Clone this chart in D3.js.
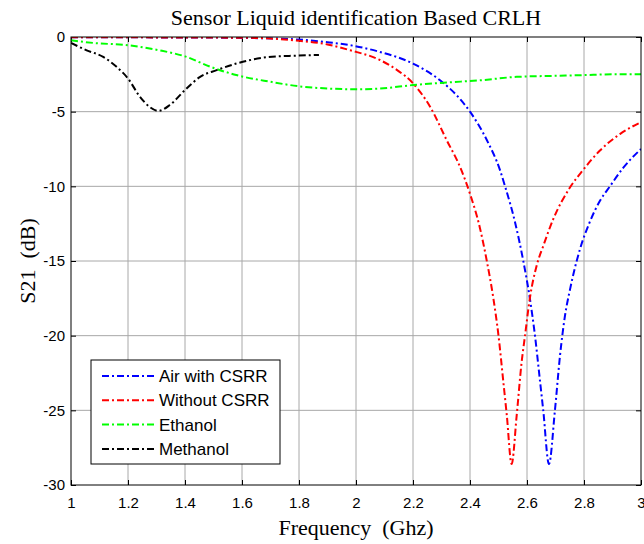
<!DOCTYPE html>
<html>
<head>
<meta charset="utf-8">
<script src="https://cdn.jsdelivr.net/npm/d3@7"></script>
<style>
  body { margin: 0; background: #fff; }
  .tick text { font-family: "Liberation Sans", Arial, sans-serif; font-size: 15px; fill: #000; }
  .grid line { stroke: #a8a8a8; stroke-width: 1; }
</style>
</head>
<body>
<div id="chart"></div>
<script>
// --- data ---
const airFreq = [1.0, 1.4, 1.6, 1.78, 1.9, 1.98, 2.084, 2.2, 2.295, 2.353, 2.4, 2.459, 2.505, 2.523, 2.558, 2.587, 2.61, 2.628, 2.646, 2.657, 2.677, 2.698, 2.716, 2.733, 2.751, 2.786, 2.82, 2.855, 2.891, 2.938, 3.0];
const airS21  = [-0.02, -0.03, -0.06, -0.15, -0.35, -0.55, -1.0, -1.78, -2.9, -3.9, -5.0, -6.9, -8.9, -10.0, -12.4, -15.0, -17.5, -20.0, -23.1, -25.0, -28.6, -25.0, -21.3, -18.7, -16.9, -14.2, -12.4, -11.0, -10.0, -8.75, -7.5];

const withoutFreq = [1.0, 1.4, 1.6, 1.7, 1.78, 1.9, 1.98, 2.084, 2.143, 2.2, 2.26, 2.318, 2.365, 2.4, 2.435, 2.459, 2.482, 2.5, 2.517, 2.529, 2.546, 2.564, 2.581, 2.593, 2.61, 2.634, 2.657, 2.692, 2.75, 2.797, 2.856, 2.926, 3.0];
const withoutS21  = [-0.02, -0.03, -0.05, -0.1, -0.22, -0.5, -0.89, -1.54, -2.2, -3.1, -4.67, -6.9, -8.7, -10.5, -12.8, -15.0, -17.5, -20.0, -23.1, -25.3, -28.6, -25.3, -21.8, -20.0, -17.5, -15.3, -14.0, -12.2, -10.1, -8.9, -7.6, -6.5, -5.7];

const ethanolFreq = [1.0, 1.08, 1.2, 1.31, 1.4, 1.49, 1.58, 1.7, 1.8, 1.9, 2.0, 2.084, 2.2, 2.318, 2.435, 2.564, 2.7, 2.8, 2.9, 3.0];
const ethanolS21  = [-0.22, -0.4, -0.55, -0.89, -1.3, -2.0, -2.55, -3.0, -3.3, -3.45, -3.5, -3.45, -3.22, -3.05, -2.9, -2.67, -2.6, -2.55, -2.5, -2.5];

const methanolFreq = [1.0, 1.055, 1.113, 1.16, 1.2, 1.242, 1.277, 1.306, 1.347, 1.4, 1.453, 1.511, 1.58, 1.69, 1.79, 1.87];
const methanolS21  = [-0.4, -0.89, -1.33, -2.0, -2.78, -4.0, -4.7, -4.95, -4.55, -3.55, -2.67, -2.22, -1.78, -1.35, -1.25, -1.2];

const seriesNames  = ["Air with CSRR", "Without CSRR", "Ethanol", "Methanol"];
const seriesColors = ["#0000ff", "#ff0000", "#00ff00", "#000000"];
const xTicks = [1, 1.2, 1.4, 1.6, 1.8, 2, 2.2, 2.4, 2.6, 2.8, 3];
const yTicks = [0, -5, -10, -15, -20, -25, -30];

const series = [
  [airFreq, airS21], [withoutFreq, withoutS21], [ethanolFreq, ethanolS21], [methanolFreq, methanolS21]
].map(([f, s], i) => ({ name: seriesNames[i], color: seriesColors[i], values: f.map((x, j) => ({ x, y: s[j] })) }));

const W = 644, H = 544;
const margin = { top: 37, right: 3, bottom: 59, left: 71 };
const width = W - margin.left - margin.right,
      height = H - margin.top - margin.bottom;

const svg = d3.select("#chart").append("svg")
  .attr("width", W).attr("height", H);

const g = svg.append("g").attr("transform", `translate(${margin.left},${margin.top})`);

const x = d3.scaleLinear().domain([1, 3]).range([0, width]);
const y = d3.scaleLinear().domain([-30, 0]).range([height, 0]);

// grid
g.append("g").attr("class", "grid")
  .selectAll("line").data(xTicks.slice(1, -1)).join("line")
  .attr("x1", d => x(d)).attr("x2", d => x(d)).attr("y1", 0).attr("y2", height);
g.append("g").attr("class", "grid")
  .selectAll("line").data(yTicks.slice(1, -1)).join("line")
  .attr("y1", d => y(d)).attr("y2", d => y(d)).attr("x1", 0).attr("x2", width);

// axes (ticks inward, MATLAB style)
const fmt = d => String(d);
g.append("g").attr("transform", `translate(0,${height})`)
  .call(d3.axisBottom(x).tickValues(xTicks).tickFormat(fmt).tickSizeInner(-5).tickSizeOuter(0).tickPadding(12))
  .call(a => a.select(".domain").remove());
g.append("g")
  .call(d3.axisTop(x).tickValues(xTicks).tickFormat("").tickSizeInner(-5).tickSizeOuter(0))
  .call(a => a.select(".domain").remove());
g.append("g")
  .call(d3.axisLeft(y).tickValues(yTicks).tickFormat(fmt).tickSizeInner(-5).tickSizeOuter(0).tickPadding(6))
  .call(a => a.select(".domain").remove());
g.append("g").attr("transform", `translate(${width},0)`)
  .call(d3.axisRight(y).tickValues(yTicks).tickFormat("").tickSizeInner(-5).tickSizeOuter(0))
  .call(a => a.select(".domain").remove());

// lines
svg.append("clipPath").attr("id", "clip")
  .append("rect").attr("width", width).attr("height", height);

const line = d3.line().x(d => x(d.x)).y(d => y(d.y)).curve(d3.curveMonotoneX);

g.append("g").attr("clip-path", "url(#clip)")
  .selectAll("path").data(series).join("path")
  .attr("fill", "none")
  .attr("stroke", d => d.color)
  .attr("stroke-width", 2)
  .attr("stroke-dasharray", "7,3,2,3")
  .attr("d", d => line(d.values));

// box
g.append("rect").attr("width", width).attr("height", height)
  .attr("fill", "none").attr("stroke", "#000").attr("stroke-width", 1);

// legend
const leg = g.append("g").attr("transform", `translate(${91 - margin.left},${360 - margin.top})`);
leg.append("rect").attr("width", 189).attr("height", 104)
  .attr("fill", "#fff").attr("stroke", "#000").attr("stroke-width", 1);
const item = leg.selectAll("g.item").data(series).join("g").attr("class", "item")
  .attr("transform", (d, i) => `translate(0,${16 + i * 24.3})`);
item.append("line")
  .attr("x1", 11).attr("x2", 64)
  .attr("stroke", d => d.color).attr("stroke-width", 2)
  .attr("stroke-dasharray", "7,3,2,3");
item.append("text")
  .attr("x", 68).attr("dy", "0.36em")
  .style("font-family", "'Liberation Sans', Arial, sans-serif")
  .style("font-size", "17px")
  .text(d => d.name);

// title and labels
const serif = "'Liberation Serif', 'Times New Roman', serif";
svg.append("text")
  .attr("x", margin.left + width / 2).attr("y", 25)
  .attr("text-anchor", "middle")
  .style("font-family", serif)
  .style("font-size", "22px")
  .text("Sensor Liquid identification Based CRLH");

svg.append("text")
  .attr("x", margin.left + width / 2).attr("y", 535)
  .attr("text-anchor", "middle")
  .style("font-family", serif)
  .style("font-size", "22px")
  .style("white-space", "pre")
  .text("Frequency  (Ghz)");

svg.append("text")
  .attr("transform", `translate(35,${margin.top + height / 2}) rotate(-90)`)
  .attr("text-anchor", "middle")
  .style("font-family", serif)
  .style("font-size", "22px")
  .style("white-space", "pre")
  .text("S21  (dB)");
</script>
</body>
</html>
